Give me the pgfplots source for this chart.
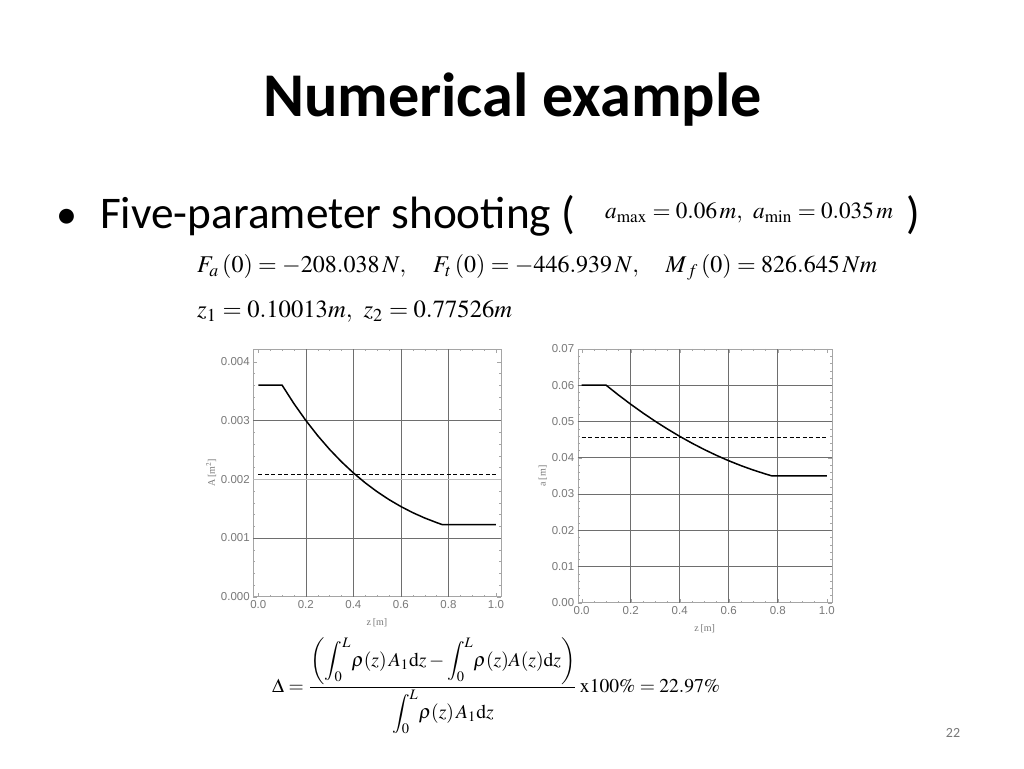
\documentclass[border=0pt]{standalone}
\usepackage{mathptmx}
\usepackage{fontspec}
\usepackage{graphicx}
\usepackage{pgfplots}
\pgfplotsset{compat=1.18}
\newfontfamily\slidefont{Carlito}
\newfontfamily\arialfont{Liberation Sans}
\newfontfamily\tmsfont{Liberation Serif}
\definecolor{tickgray}{RGB}{120,120,120}
\definecolor{framegray}{RGB}{165,165,165}
\definecolor{gridgray}{RGB}{110,110,110}

% radius profile a(z), area A = a^2 on the left
\pgfplotstableread{
z a
0       0.06
0.10013 0.06
0.15    0.057317
0.2     0.054767
0.25    0.05235
0.3     0.050067
0.35    0.047917
0.4     0.0459
0.45    0.044017
0.5     0.042267
0.55    0.04065
0.6     0.039167
0.65    0.037817
0.7     0.0366
0.75    0.035517
0.77526 0.035
1.0     0.035
}\radius
\pgfplotstableread{
z A
0       0.0036
0.10013 0.0036
0.15    0.0032852
0.2     0.0029994
0.25    0.0027405
0.3     0.0025067
0.35    0.0022960
0.4     0.0021068
0.45    0.0019375
0.5     0.0017865
0.55    0.0016524
0.6     0.0015341
0.65    0.0014301
0.7     0.0013396
0.75    0.0012615
0.77526 0.001225
1.0     0.001225
}\area

\pgfplotsset{mma/.style={
  scale only axis,
  axis line style={framegray},
  tick align=inside,
  tick style={framegray},
  major tick length=4pt, minor tick length=2pt,
  xtick={0,0.2,...,1.0},
  minor x tick num=3,
  xticklabel style={/pgf/number format/.cd,fixed,fixed zerofill,precision=1},
  ticklabel style={font=\fontsize{11.5}{12}\arialfont, text=tickgray,
    /pgf/number format/assume math mode=true},
  label style={font=\fontsize{10}{10}\tmsfont, text=tickgray},
  extra x ticks={0.2,0.4,0.6,0.8},
  extra x tick labels={},
  extra x tick style={grid=major, major tick length=0pt},
  major grid style={gridgray, line width=0.6pt},
  xlabel={z\,[m]},
  xlabel style={yshift=-3pt},
  ylabel style={yshift=-2pt},
  curve/.style={black, line width=1.5pt},
  level/.style={black, line width=1.5pt, dash pattern=on 4pt off 2.5pt},
}}

\begin{document}
\begin{tikzpicture}
\fill[white] (0pt,0pt) rectangle (1024pt,768pt);

% slide text
\node[anchor=base, inner sep=0] at (512.5pt,651pt)
  {\resizebox{499pt}{!}{\slidefont\bfseries\fontsize{64}{64}\selectfont Numerical example}};
\node[anchor=base, inner sep=0] at (67pt,539pt) {\slidefont\fontsize{42}{42}\selectfont •};
\node[anchor=base west, inner sep=0] at (100pt,539pt)
  {\resizebox{475pt}{!}{\slidefont\fontsize{45}{45}\selectfont Five-parameter shooting (}};
\node[anchor=base west, inner sep=0] at (906pt,539pt) {\slidefont\fontsize{45}{45}\selectfont )};
\node[anchor=base west, inner sep=0] at (605pt,549pt)
  {\resizebox{288pt}{!}{$a_{\max}=0.06\,m,\ a_{\min}=0.035\,m$}};
\node[anchor=base west, inner sep=0] at (197pt,495pt)
  {\resizebox{680pt}{!}{$F_{a}\,(0)=-208.038\,N,\quad F_{t}\,(0)=-446.939\,N,\quad M_{\,f}\,(0)=826.645\,Nm$}};
\node[anchor=base west, inner sep=0] at (197pt,450pt)
  {\resizebox{315pt}{!}{$z_1=0.10013m,\ z_2=0.77526m$}};
\node[anchor=west, inner sep=0] at (272pt,82pt)
  {\resizebox{448pt}{!}{$\displaystyle \Delta=\frac{\displaystyle\left(\int_0^L\!\rho(z)\,A_1\mathrm{d}z-\int_0^L\!\rho(z)A(z)\mathrm{d}z\right)}{\displaystyle\int_0^L\!\rho(z)\,A_1\mathrm{d}z}\,\mathrm{x}100\%=22.97\%$}};
\node[text=tickgray] at (953pt,35pt) {\slidefont\fontsize{14}{14}\selectfont 22};

% left plot: cross-section area
\begin{axis}[mma,
  at={(253.3pt,171.3pt)}, anchor=south west,
  width=247.4pt, height=247.4pt,
  xmin=-0.021, xmax=1.02, ymin=0, ymax=0.00421,
  ytick={0,0.001,...,0.004},
  minor y tick num=4,
  yticklabel style={/pgf/number format/.cd,fixed,fixed zerofill,precision=3},
  scaled y ticks=false,
  extra y ticks={0.001,0.003},
  extra y tick labels={},
  extra y tick style={grid=major, major tick length=0pt},
  ylabel={A\,[m$^2$]},
]
\addplot[draw=black!25, line width=1.2pt] coordinates {(-0.021,0.002) (1.02,0.002)};
\addplot[curve] table[x=z, y=A] {\area};
\addplot[level] coordinates {(0,0.00208) (1.0,0.00208)};
\end{axis}

% right plot: radius
\begin{axis}[mma,
  at={(577.7pt,165.3pt)}, anchor=south west,
  width=254pt, height=253.7pt,
  xmin=-0.016, xmax=1.02, ymin=0, ymax=0.07,
  ytick={0,0.01,...,0.07},
  minor y tick num=4,
  yticklabel style={/pgf/number format/.cd,fixed,fixed zerofill,precision=2},
  scaled y ticks=false,
  extra y ticks={0.01,0.02,0.03,0.04,0.05,0.06},
  extra y tick labels={},
  extra y tick style={grid=major, major tick length=0pt},
  ylabel={a\,[m]},
]
\addplot[curve] table[x=z, y=a] {\radius};
\addplot[level] coordinates {(0,0.0456) (1.0,0.0456)};
\end{axis}
\end{tikzpicture}
\end{document}
